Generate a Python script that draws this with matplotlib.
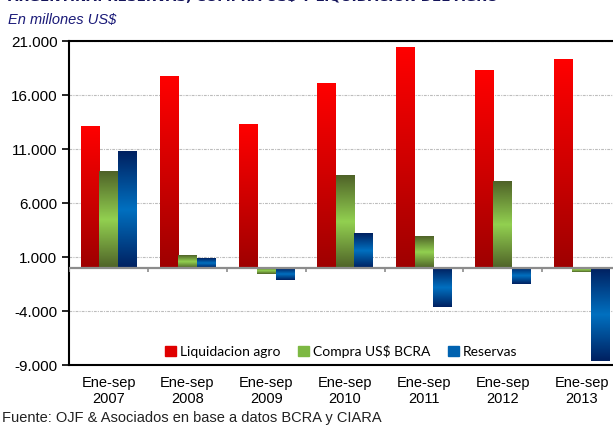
import matplotlib
matplotlib.use("Agg")
import matplotlib.pyplot as plt
import matplotlib.colors as mcolors
import matplotlib.patches as mpatches
import numpy as np

periods = ["Ene-sep\n2007", "Ene-sep\n2008", "Ene-sep\n2009", "Ene-sep\n2010",
           "Ene-sep\n2011", "Ene-sep\n2012", "Ene-sep\n2013"]
liquidacion_agro = [13150, 17700, 13250, 17050, 20400, 18250, 19300]
compra_bcra = [8900, 1200, -600, 8600, 2900, 8000, -400]
reservas = [10800, 900, -1100, 3150, -3600, -1500, -8600]
series_labels = ["Liquidacion agro", "Compra US$ BCRA", "Reservas"]
yticks = [-9000, -4000, 1000, 6000, 11000, 16000, 21000]

# colour stops (bottom -> top) for the gradient fills
gradients = [
    ["#9E0000", "#D00000", "#FF0000"],
    ["#4F6228", "#92D050", "#4F6228"],
    ["#002060", "#0070C0", "#002060"],
]
legend_colors = ["#E00000", "#7DB843", "#0062B0"]

fig = plt.figure(figsize=(6.13, 4.25), dpi=100)
ax = fig.add_axes([0.113, 0.141, 0.900, 0.762])

x = np.arange(len(periods))
width = 0.235
offsets = [-width, 0, width]
for vals, off, stops in zip([liquidacion_agro, compra_bcra, reservas], offsets, gradients):
    bars = ax.bar(x + off, vals, width, color="none", zorder=3)
    cmap = mcolors.LinearSegmentedColormap.from_list("g", stops)
    grad = np.linspace(0, 1, 256).reshape(-1, 1)
    for b in bars:
        x0, y0 = b.get_x(), b.get_y()
        x1, y1 = x0 + b.get_width(), y0 + b.get_height()
        lo, hi = min(y0, y1), max(y0, y1)
        ax.imshow(grad, cmap=cmap, extent=[x0, x1, lo, hi], origin="lower",
                  aspect="auto", zorder=3, interpolation="bilinear")

ax.set_xlim(-0.5, len(periods) - 0.5)
ax.set_ylim(-9000, 21000)

# zero line with category separators
ax.axhline(0, color="#8C8C8C", lw=1.6, zorder=4)
ax.vlines(np.arange(len(periods)) - 0.5, -420, 0, color="#8C8C8C", lw=1.2, zorder=4)

ax.set_yticks(yticks)
ax.set_yticklabels([f"{v:,}".replace(",", ".") for v in yticks],
                   fontsize=11, family="Liberation Sans")
ax.tick_params(axis="y", direction="out", length=5, width=1.2, color="black")
ax.set_xticks(x)
ax.set_xticklabels(periods, fontsize=10.5, family="Liberation Sans", linespacing=1.15)
ax.tick_params(axis="x", length=0, pad=8)

for s in ["left", "top", "bottom"]:
    ax.spines[s].set_linewidth(1.5)
    ax.spines[s].set_color("black")
ax.spines["right"].set_visible(False)

ax.yaxis.grid(True, color="#BDBDBD", linestyle=(0, (2.5, 1, 1, 1)), lw=0.8, zorder=0)
ax.set_axisbelow(True)

handles = [mpatches.Patch(color=c, label=l) for c, l in zip(legend_colors, series_labels)]
ax.legend(handles=handles, loc="center", bbox_to_anchor=(0.493, 0.043), ncol=3,
          frameon=False, prop={"family": "Lato", "size": 10},
          handlelength=0.75, handleheight=0.75, handletextpad=0.3, columnspacing=1.3)

fig.text(0.013, 1.005, "ARGENTINA: RESERVAS, COMPRA US$ Y LIQUIDACION DEL AGRO",
         fontsize=9.7, fontweight="bold", color="#14145A", va="center",
         family="DejaVu Sans")
fig.text(0.013, 0.953, "En millones US$", fontsize=10.5, style="italic",
         color="#1A1A78", va="center", family="Liberation Sans")
fig.text(0.003, 0.017, "Fuente: OJF & Asociados en base a datos BCRA y CIARA",
         fontsize=10.5, color="#222222", va="center", family="Liberation Sans")

fig.savefig("out.png", dpi=100)
